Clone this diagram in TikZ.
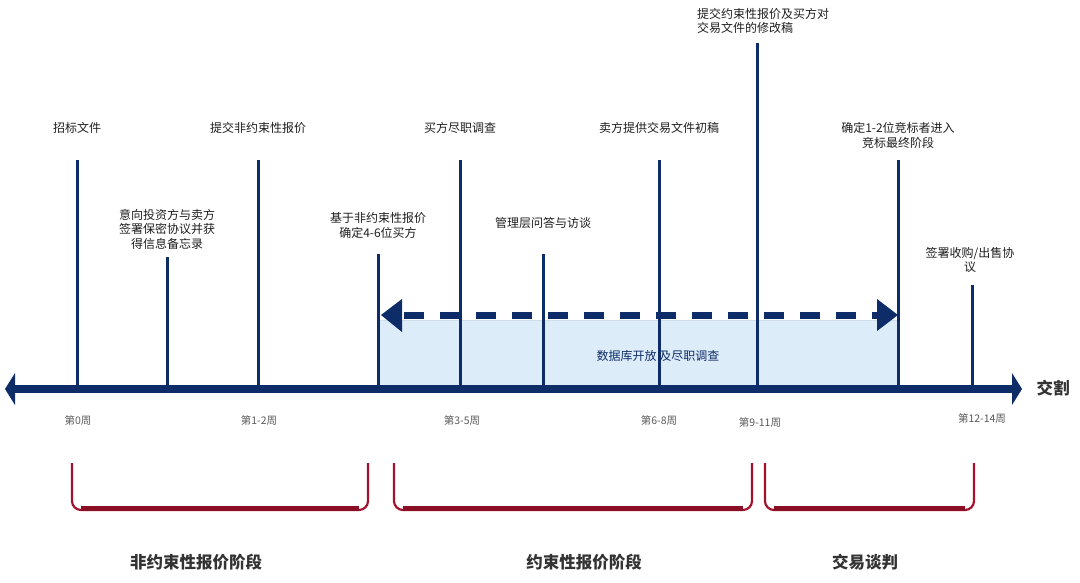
\documentclass[tikz,border=0pt]{standalone}
\usepackage{fontspec}
\setmainfont{Noto Sans CJK SC}
\newfontfamily\cjk{Noto Sans CJK SC}
\definecolor{navy}{RGB}{14,44,104}
\definecolor{fillblue}{RGB}{221,236,249}
\definecolor{bred}{RGB}{163,18,44}
\definecolor{txt}{RGB}{30,30,30}
\definecolor{wk}{RGB}{90,90,90}
\tikzset{
  tickline/.style={navy,line width=3pt},
  lab/.style={text=txt,font=\cjk\fontsize{12}{14.5}\selectfont,align=center,inner sep=0pt},
  wklab/.style={text=wk,font=\cjk\fontsize{10.5}{12}\selectfont,inner sep=0pt},
  phase/.style={text=black!80,font=\cjk\bfseries\fontsize{16.5}{18}\selectfont,inner sep=0pt},
  bracketline/.style={bred,line width=2.2pt,rounded corners=9pt},
  bracketbase/.style={bred!85!black,line width=4.5pt},
}
\begin{document}
\begin{tikzpicture}[x=1pt,y=-1pt]
\useasboundingbox (0,0) rectangle (1080,582);
% shaded data-room region
\fill[fillblue] (378,320) rectangle (898,389);
\draw[fillblue!80!navy!60,line width=0.4pt] (378,320) -- (898,320);
\node[text=navy,font=\cjk\fontsize{12}{14}\selectfont,inner sep=0pt] (dr) at (658,356) {数据库开放 及尽职调查};

% coordinates of ticks
\foreach \n/\x/\t in {1/77/160,2/167/257,3/258/160,4/378/254,5/460/160,6/543/254,7/659/160,8/757/43,9/898/160,10/972/285}{
  \coordinate (b\n) at (\x,389);
  \coordinate (t\n) at (\x,\t);
  \draw[tickline] (b\n) -- (t\n);
}

% labels
\node[lab] (l1) at (77,128) {招标文件};
\node[lab] (l2) at (167,229) {意向投资方与卖方\\签署保密协议并获\\得信息备忘录};
\node[lab] (l3) at (258,128) {提交非约束性报价};
\node[lab] (l4) at (378,225.5) {基于非约束性报价\\确定4-6位买方};
\node[lab] (l5) at (460,128) {买方尽职调查};
\node[lab] (l6) at (543,223) {管理层问答与访谈};
\node[lab] (l7) at (659,128) {卖方提供交易文件初稿};
\node[lab,align=left,anchor=west] (l8) at (697,21) {提交约束性报价及买方对\\交易文件的修改稿};
\node[lab] (l9) at (898,135.5) {确定1-2位竞标者进入\\竞标最终阶段};
\node[lab] (l10) at (970,260) {签署收购/出售协\\议};

% dashed double arrow
\coordinate (dL) at (381,315);
\coordinate (dR) at (898,315);
\draw[navy,line width=7pt,dash pattern=on 20pt off 16pt,dash phase=-1pt] (403,315) -- (877,315);
\fill[navy] (dL) -- (402,299) -- (402,332) -- cycle;
\fill[navy] (dR) -- (877,299) -- (877,331) -- cycle;

% main axis
\coordinate (axL) at (5,389);
\coordinate (axR) at (1022,389);
\draw[navy,line width=8pt] (14,389) -- (1013,389);
\fill[navy] (axL) -- (15,373) -- (15,405) -- cycle;
\fill[navy] (axR) -- (1012,373) -- (1012,405) -- cycle;
\node[text=black!80,font=\cjk\bfseries\fontsize{16.5}{18}\selectfont,inner sep=0pt] (jg) at (1053,388) {交割};

% week labels
\node[wklab] (w1) at (78,421) {第0周};
\node[wklab] (w2) at (259,421) {第1-2周};
\node[wklab] (w3) at (462,421) {第3-5周};
\node[wklab] (w4) at (659,421) {第6-8周};
\node[wklab] (w5) at (760,423) {第9-11周};
\node[wklab] (w6) at (982,419) {第12-14周};

% red brackets
\foreach \a/\b in {72/368,394/752,765/974}{
  \draw[bracketline] (\a,463) -- (\a,510) -- (\b,510) -- (\b,463);
  \draw[bracketbase] (\a+9,508.5) -- (\b-9,508.5);
}

% phase labels
\node[phase] (p1) at (196,562) {非约束性报价阶段};
\node[phase] (p2) at (584,562) {约束性报价阶段};
\node[phase] (p3) at (865,562) {交易谈判};
\end{tikzpicture}
\end{document}
